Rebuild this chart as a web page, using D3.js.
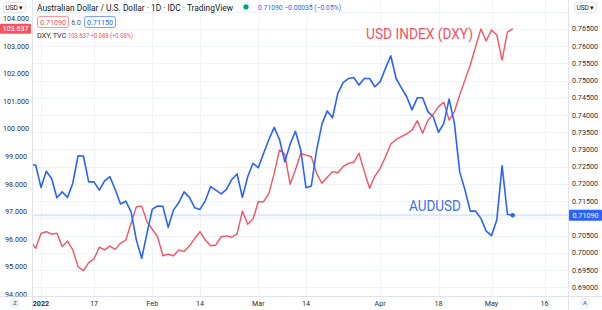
<!DOCTYPE html>
<html><head><meta charset="utf-8">
<script src="https://cdn.jsdelivr.net/npm/d3@7/dist/d3.min.js"></script>
<style>
body{margin:0;background:#fff;}
svg{display:block;font-family:Roboto,"Noto Sans",sans-serif;}
</style>
</head><body>
<svg id="c" width="602" height="310"></svg>
<script>
// Trading-day series, first value = 30 Dec 2021 (index -2), last = 6 May 2022 (index 89)
const firstIndex = -2;
const audusd = [0.7255,0.7255,0.7190,0.7237,0.7216,0.7160,0.7177,0.7161,0.7202,0.7282,
  0.7281,0.7206,0.7206,0.7182,0.7209,0.7221,0.7184,0.7142,0.7150,0.7119,
  0.7037,0.6984,0.7057,0.7127,0.7136,0.7135,0.7074,0.7124,0.7146,0.7177,
  0.7161,0.7131,0.7126,0.7151,0.7192,0.7182,0.7171,0.7184,0.7213,0.7229,
  0.7161,0.7221,0.7260,0.7247,0.7289,0.7329,0.7364,0.7329,0.7264,0.7315,
  0.7353,0.7299,0.7189,0.7194,0.7298,0.7373,0.7412,0.7392,0.7463,0.7494,
  0.7506,0.7509,0.7487,0.7506,0.7506,0.7482,0.7497,0.7536,0.7572,0.7506,
  0.7479,0.7453,0.7415,0.7450,0.7450,0.7410,0.7395,0.7350,0.7376,0.7446,
  0.7376,0.7235,0.7182,0.7121,0.7121,0.7100,0.7063,0.7050,0.7095,0.7253,
  0.7112,0.7109];
const dxy = [95.95,95.67,96.21,96.27,96.18,96.22,95.73,95.93,95.61,95.00,
  94.86,95.15,95.28,95.71,95.61,95.75,95.63,95.85,95.97,96.58,
  97.18,97.20,96.63,96.36,96.09,95.40,95.46,95.40,95.61,95.55,
  95.75,96.03,96.27,95.97,95.76,95.79,96.09,96.12,96.07,96.19,
  97.02,96.54,96.73,97.36,97.36,97.66,98.39,99.24,99.09,97.99,
  98.51,99.11,99.05,98.99,98.39,98.03,98.25,98.45,98.41,98.63,
  98.75,98.79,99.12,98.45,97.85,98.29,98.57,98.99,99.45,99.62,
  99.72,99.82,99.96,100.30,99.84,100.31,100.53,100.81,100.97,100.32,
  100.63,101.23,101.78,102.32,102.98,103.63,103.19,103.59,103.41,102.50,
  103.51,103.64];
const xTickIndex = [0,10,21,30,41,50,64,75,85,95];
const xTickLabels = ["2022","17","Feb","14","Mar","14","Apr","18","May","16"];
const leftTicks = [94,95,96,97,98,99,100,101,102,103,104];
const rightTicks = [0.690,0.695,0.700,0.705,0.710,0.715,0.720,0.725,0.730,0.735,0.740,0.745,0.750,0.755,0.760,0.765,0.770];
const audLast = 0.71090, dxyLast = 103.637;
const titleText = "Australian Dollar / U.S. Dollar · 1D · IDC · TradingView";
const priceText = "0.71090 −0.00035 (−0.05%)";
const dxyLegend = "103.637 +0.088 (+0.08%)";

const RED = "#f7525f", BLUE = "#2962ff", GRID = "#f0f3fa", BORDER = "#e0e3eb", TXT = "#131722";
const svg = d3.select("#c");
const W = 602, H = 310;
const plotL = 32.5, plotR = 568.5, plotB = 296.5;

const x = d3.scaleLinear().domain([0, 95]).range([41, 544.5]);
const yR = d3.scaleLinear().domain([0.69, 0.765]).range([287.3, 28.9]);
const yL = d3.scaleLinear().domain([94, 104]).range([294.3, 18.7]);

svg.append("rect").attr("width", W).attr("height", H).attr("fill", "#fff");
const defs = svg.append("defs");
defs.append("clipPath").attr("id", "plot").append("rect")
  .attr("x", plotL).attr("y", 0).attr("width", plotR - plotL).attr("height", plotB);
defs.append("clipPath").attr("id", "ax").append("rect")
  .attr("x", 0).attr("y", 0).attr("width", W).attr("height", plotB);

// grid
const g = svg.append("g").attr("clip-path", "url(#plot)");
g.selectAll(".hg").data(rightTicks).join("line")
  .attr("x1", plotL).attr("x2", plotR)
  .attr("y1", d => Math.round(yR(d)) + 0.5).attr("y2", d => Math.round(yR(d)) + 0.5)
  .attr("stroke", GRID).attr("stroke-width", 1);
g.selectAll(".vg").data(xTickIndex).join("line")
  .attr("x1", d => Math.round(x(d)) + 0.5).attr("x2", d => Math.round(x(d)) + 0.5)
  .attr("y1", 0).attr("y2", plotB)
  .attr("stroke", GRID).attr("stroke-width", 1);

// price line
g.append("line").attr("x1", plotL).attr("x2", plotR)
  .attr("y1", yR(audLast)).attr("y2", yR(audLast))
  .attr("stroke", BLUE).attr("stroke-opacity", 0.16).attr("stroke-width", 2);

// series
const lineR = d3.line().x((d, i) => x(i + firstIndex)).y(d => yL(d));
const lineB = d3.line().x((d, i) => x(i + firstIndex)).y(d => yR(d));
g.append("path").attr("d", lineR(dxy)).attr("fill", "none").attr("stroke", RED)
  .attr("stroke-width", 1.4).attr("stroke-linejoin", "round");
g.append("path").attr("d", lineB(audusd)).attr("fill", "none").attr("stroke", BLUE)
  .attr("stroke-width", 1.6).attr("stroke-linejoin", "round");
g.append("circle").attr("cx", x(audusd.length - 1 + firstIndex)).attr("cy", yR(audLast))
  .attr("r", 2.2).attr("fill", BLUE);

// annotations
svg.append("text").attr("x", 366).attr("y", 39).attr("fill", RED)
  .attr("font-size", 15).attr("textLength", 107).attr("lengthAdjust", "spacingAndGlyphs")
  .text("USD INDEX (DXY)");
svg.append("text").attr("x", 409).attr("y", 210.5).attr("fill", "#3d6ff5")
  .attr("font-size", 14).attr("textLength", 52).attr("lengthAdjust", "spacingAndGlyphs")
  .text("AUDUSD");

// panel borders
svg.append("line").attr("x1", plotL).attr("x2", plotL).attr("y1", 0).attr("y2", H).attr("stroke", BORDER);
svg.append("line").attr("x1", plotR).attr("x2", plotR).attr("y1", 0).attr("y2", H).attr("stroke", BORDER);
svg.append("line").attr("x1", 0).attr("x2", W).attr("y1", plotB).attr("y2", plotB).attr("stroke", BORDER);

// axis labels (labels hidden by a badge or button are skipped)
const la = svg.append("g").attr("clip-path", "url(#ax)");
la.selectAll(".lt").data(leftTicks.filter(d => Math.abs(yL(d) - yL(dxyLast)) > 9)).join("text")
  .attr("x", 16).attr("y", d => yL(d) + 2.5).attr("text-anchor", "middle")
  .attr("font-size", 7.2).attr("fill", "#2a2e39").text(d => d3.format(".3f")(d));
la.selectAll(".rt").data(rightTicks.filter(d => Math.abs(yR(d) - yR(audLast)) > 9 && yR(d) > 18)).join("text")
  .attr("x", 585).attr("y", d => yR(d) + 2.5).attr("text-anchor", "middle")
  .attr("font-size", 7.2).attr("fill", "#2a2e39").text(d => d3.format(".5f")(d));

// last-value badges
svg.append("rect").attr("x", 0).attr("y", yL(dxyLast) - 5).attr("width", 31).attr("height", 10)
  .attr("fill", RED).attr("rx", 1);
svg.append("text").attr("x", 15.5).attr("y", yL(dxyLast) + 2.6).attr("text-anchor", "middle")
  .attr("font-size", 7.2).attr("fill", "#fff").text(d3.format(".3f")(dxyLast));
svg.append("rect").attr("x", 569).attr("y", yR(audLast) - 5.5).attr("width", 33).attr("height", 11)
  .attr("fill", BLUE).attr("rx", 1);
svg.append("text").attr("x", 585.5).attr("y", yR(audLast) + 2.6).attr("text-anchor", "middle")
  .attr("font-size", 7.2).attr("fill", "#fff").text(d3.format(".5f")(audLast));

// x axis labels
svg.selectAll(".xt").data(xTickIndex).join("text")
  .attr("x", d => x(d)).attr("y", 305.5).attr("text-anchor", "middle")
  .attr("font-size", 7.2).attr("fill", "#2a2e39")
  .attr("font-weight", (d, i) => i === 0 ? "bold" : "normal")
  .text((d, i) => xTickLabels[i]);

// corner icons
[[15, 303, "Z"], [585, 303, "A"]].forEach(([cx, cy, t]) => {
  svg.append("circle").attr("cx", cx).attr("cy", cy).attr("r", 5.5).attr("fill", "#f0f3fa");
  svg.append("text").attr("x", cx).attr("y", cy + 2.3).attr("text-anchor", "middle")
    .attr("font-size", 6).attr("fill", "#555").text(t);
});

// currency buttons
[[3, "USD ▾"], [574, "USD ▾"]].forEach(([bx, t]) => {
  svg.append("rect").attr("x", bx + 0.5).attr("y", 2.5).attr("width", 22).attr("height", 10)
    .attr("rx", 2).attr("fill", "#fff").attr("stroke", BORDER);
  svg.append("text").attr("x", bx + 11.5).attr("y", 10).attr("text-anchor", "middle")
    .attr("font-size", 6.5).attr("fill", TXT).text(t);
});

// header legend
svg.append("text").attr("x", 37).attr("y", 10.5).attr("font-size", 8.3).attr("fill", TXT)
  .attr("textLength", 196).attr("lengthAdjust", "spacingAndGlyphs").text(titleText);
svg.append("circle").attr("cx", 246).attr("cy", 6.8).attr("r", 2.6).attr("fill", "#089981");
svg.append("circle").attr("cx", 246).attr("cy", 6.8).attr("r", 4.2).attr("fill", "none")
  .attr("stroke", "#089981").attr("stroke-opacity", 0.2);
svg.append("text").attr("x", 258).attr("y", 10).attr("font-size", 7.2).attr("fill", BLUE)
  .attr("textLength", 83).attr("lengthAdjust", "spacingAndGlyphs").text(priceText);

svg.append("rect").attr("x", 37.5).attr("y", 16.5).attr("width", 31).attr("height", 11)
  .attr("rx", 2).attr("fill", "#fff").attr("stroke", RED).attr("stroke-opacity", 0.6);
svg.append("text").attr("x", 53).attr("y", 24.5).attr("text-anchor", "middle")
  .attr("font-size", 7.2).attr("fill", RED).text("0.71090");
svg.append("text").attr("x", 76).attr("y", 24.5).attr("text-anchor", "middle")
  .attr("font-size", 7).attr("fill", "#50535e").text("6.0");
svg.append("rect").attr("x", 84.5).attr("y", 16.5).attr("width", 31).attr("height", 11)
  .attr("rx", 2).attr("fill", "#fff").attr("stroke", BLUE).attr("stroke-opacity", 0.6);
svg.append("text").attr("x", 100).attr("y", 24.5).attr("text-anchor", "middle")
  .attr("font-size", 7.2).attr("fill", BLUE).text("0.71150");

svg.append("text").attr("x", 37).attr("y", 37.5).attr("font-size", 7.2).attr("fill", "#2a2e39")
  .text("DXY, TVC");
svg.append("text").attr("x", 68).attr("y", 37.5).attr("font-size", 7.2).attr("fill", RED)
  .attr("textLength", 65).attr("lengthAdjust", "spacingAndGlyphs").text(dxyLegend);
</script>
</body></html>
